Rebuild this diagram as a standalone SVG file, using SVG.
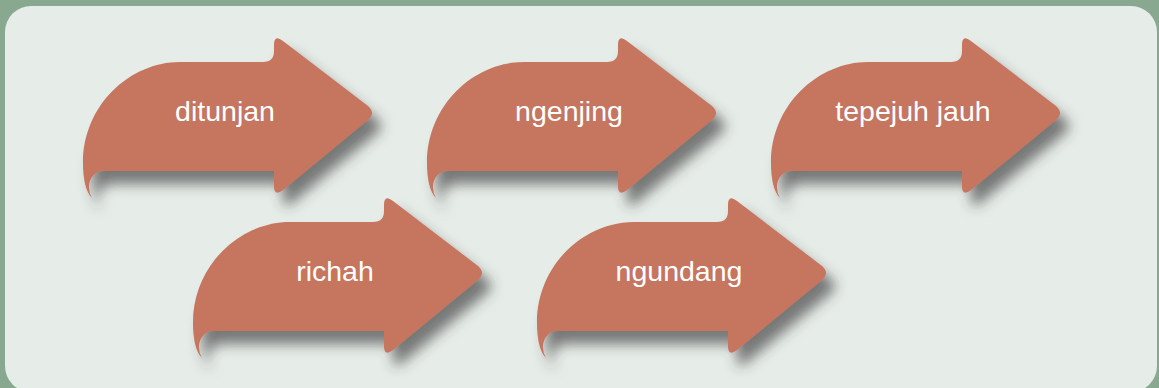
<svg xmlns="http://www.w3.org/2000/svg" xmlns:xlink="http://www.w3.org/1999/xlink" width="1159" height="388" viewBox="0 0 1159 388">
  <style>
    .arrow { fill: #C6745E; filter: url(#shadow); }
    .label { fill: #FFFFFF; font-family: "Liberation Sans", Arial, Helvetica, sans-serif; font-size: 28.5px; text-anchor: middle; }
  </style>
  <defs>
    <filter id="shadow" x="-10%" y="-10%" width="130%" height="145%">
      <feDropShadow dx="9" dy="13" stdDeviation="6.5" flood-color="#3a3a3a" flood-opacity="0.65"/>
    </filter>
    <path id="arrowShape" d="M 92,198 C 86,192 83,180 83,163 C 83,105 130,62 180,62 L 263,62 Q 274,62 274,51 L 274,45 Q 274,34 283,41 L 368,106 Q 376,113 368,120 L 283,190 Q 274,197 274,186 L 274,171 L 103,171 C 95,171 89,178 89,187 Q 89,193 92,198 Z"/>
  </defs>
  <rect x="0" y="0" width="1159" height="388" fill="#88A890"/>
  <rect x="5" y="6" width="1152" height="386" rx="26" ry="26" fill="#E6ECE8"/>
  <g id="connectors"></g>
  <g id="node-ditunjan">
    <use xlink:href="#arrowShape" href="#arrowShape" class="arrow"/>
    <text class="label" x="225" y="121">ditunjan</text>
  </g>
  <g id="node-ngenjing" transform="translate(344,0)">
    <use xlink:href="#arrowShape" href="#arrowShape" class="arrow"/>
    <text class="label" x="225" y="121">ngenjing</text>
  </g>
  <g id="node-tepejuh-jauh" transform="translate(688,0)">
    <use xlink:href="#arrowShape" href="#arrowShape" class="arrow"/>
    <text class="label" x="225" y="121">tepejuh jauh</text>
  </g>
  <g id="node-richah" transform="translate(110,160)">
    <use xlink:href="#arrowShape" href="#arrowShape" class="arrow"/>
    <text class="label" x="225" y="121">richah</text>
  </g>
  <g id="node-ngundang" transform="translate(454,160)">
    <use xlink:href="#arrowShape" href="#arrowShape" class="arrow"/>
    <text class="label" x="225" y="121">ngundang</text>
  </g>
</svg>
